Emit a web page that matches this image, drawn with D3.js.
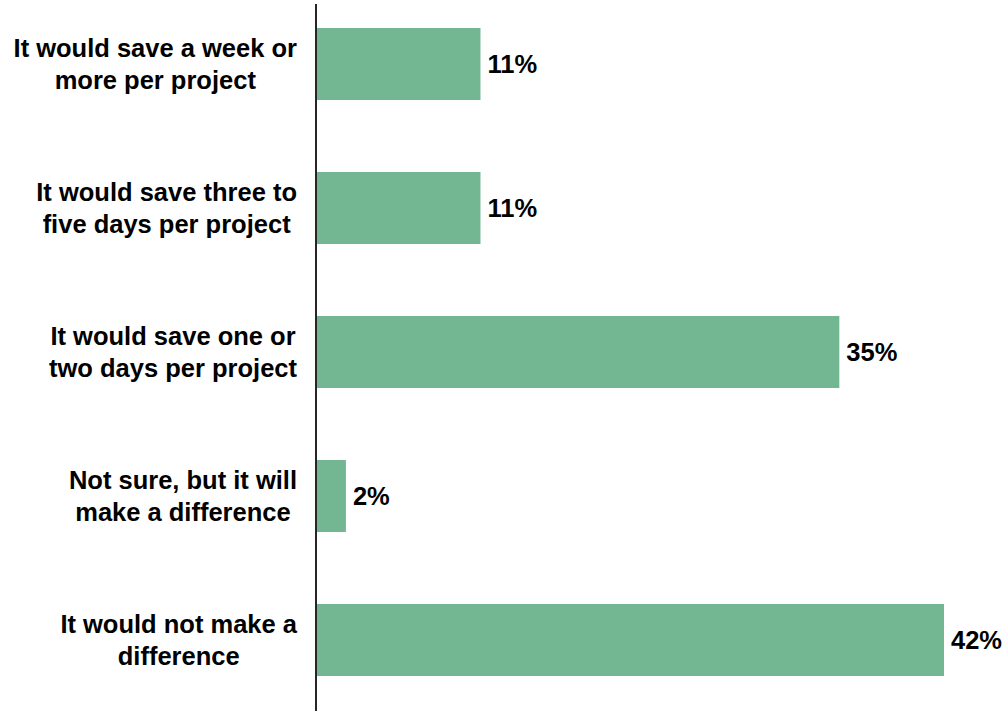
<!DOCTYPE html>
<html>
<head>
<meta charset="utf-8">
<script src="https://cdn.jsdelivr.net/npm/d3@7"></script>
<style>
  html, body { margin: 0; padding: 0; background: #ffffff; }
  svg { display: block; }
  text { font-family: Arial, "Liberation Sans", sans-serif; font-weight: bold; fill: #000; }
</style>
</head>
<body>
<svg id="chart" width="1006" height="711"></svg>
<script>
// Survey answers, one per bar, top to bottom
const categories = [
  ["It would save a week or", "more per project"],
  ["It would save three to", "five days per project"],
  ["It would save one or", "two days per project"],
  ["Not sure, but it will", "make a difference"],
  ["It would not make a", "difference"]
];
const values = [11, 11, 35, 2, 42];
const valueLabels = ["11%", "11%", "35%", "2%", "42%"];

const W = 1006, H = 711;
const axisX = 316;
const fontSize = 25.5;
const lineGap = 32.6;

const svg = d3.select("#chart");

const keys = categories.map((c, i) => i);

const y = d3.scaleBand()
  .domain(keys)
  .range([-8, 712])
  .paddingInner(0.5)
  .paddingOuter(0.25);

const x = d3.scaleLinear()
  .domain([0, 42])
  .range([axisX, 944]);

// Bars
svg.append("g")
  .selectAll("rect")
  .data(values)
  .join("rect")
  .attr("x", x(0))
  .attr("y", (d, i) => y(i))
  .attr("width", d => x(d) - x(0))
  .attr("height", y.bandwidth())
  .attr("fill", "#72b692");

// Value labels at the bar ends
svg.append("g")
  .selectAll("text")
  .data(values)
  .join("text")
  .attr("x", d => x(d) + 7)
  .attr("y", (d, i) => y(i) + y.bandwidth() / 2 + fontSize * 0.36)
  .attr("font-size", fontSize)
  .text((d, i) => valueLabels[i]);

// Category labels: block right-aligned to the axis, lines centred in the block
const labelRight = 297;
const catG = svg.append("g");
categories.forEach((lines, i) => {
  const cy = y(i) + y.bandwidth() / 2;
  const g = catG.append("g");
  const texts = lines.map((ln, j) => g.append("text")
    .attr("font-size", fontSize)
    .attr("y", cy + (j - (lines.length - 1) / 2) * lineGap + fontSize * 0.36)
    .text(ln));
  const maxW = d3.max(texts, t => t.node().getComputedTextLength());
  texts.forEach(t => t.attr("x", labelRight - maxW / 2).attr("text-anchor", "middle"));
});

// Category axis line
svg.append("line")
  .attr("x1", axisX).attr("x2", axisX)
  .attr("y1", 4).attr("y2", H)
  .attr("stroke", "#262626")
  .attr("stroke-width", 2);
</script>
</body>
</html>
